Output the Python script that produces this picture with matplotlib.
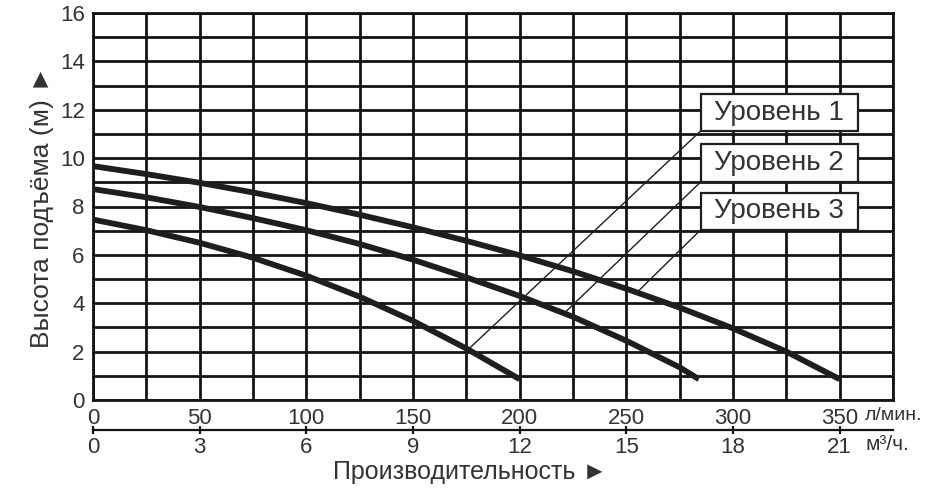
import numpy as np
import matplotlib
matplotlib.use("Agg")
import matplotlib.pyplot as plt
from matplotlib.patches import Rectangle

plt.rcParams['font.family'] = ['Liberation Sans', 'DejaVu Sans']

# ---- data (flow in l/min, head in m) ----
x_lvl3 = [0, 25, 50, 75, 100, 125, 150, 175, 200, 225, 250, 275, 300, 325, 350]
y_lvl3 = [9.67, 9.34, 8.98, 8.58, 8.14, 7.66, 7.14, 6.58, 5.98, 5.32, 4.6, 3.82, 2.96, 2.0, 0.86]
x_lvl2 = [0, 25, 50, 75, 100, 125, 150, 175, 200, 225, 250, 275, 284]
y_lvl2 = [8.72, 8.38, 7.98, 7.52, 7.02, 6.45, 5.8, 5.07, 4.3, 3.44, 2.45, 1.35, 0.86]
x_lvl1 = [0, 25, 50, 75, 100, 125, 150, 175, 200]
y_lvl1 = [7.46, 7.02, 6.5, 5.88, 5.14, 4.27, 3.27, 2.13, 0.86]

labels = ["Уровень 1", "Уровень 2", "Уровень 3"]
# leader line endpoints on curves (x, y)
leader_targets = [(176, 2.1), (221, 3.6), (255, 4.45)]

xticks_lmin = [0, 50, 100, 150, 200, 250, 300, 350]
xticks_m3h = [0, 3, 6, 9, 12, 15, 18, 21]
yticks = [0, 2, 4, 6, 8, 10, 12, 14, 16]

GRID = '#141414'
TXT = '#333333'

fig = plt.figure(figsize=(9.29, 4.95), dpi=100)
ax = fig.add_axes([93/929, 95/495, 800/929, 387/495])
ax.set_xlim(0, 375)
ax.set_ylim(0, 16)

ax.set_xticks(xticks_lmin)
ax.set_xticks(np.arange(0, 376, 25), minor=True)
ax.set_yticks(yticks)
ax.set_yticks(np.arange(0, 17, 1), minor=True)
ax.grid(True, which='both', color=GRID, linewidth=2.0)
ax.set_axisbelow(True)
for s in ax.spines.values():
    s.set_linewidth(2.0)
    s.set_color(GRID)
ax.tick_params(which='both', length=0)
ax.tick_params(axis='x', pad=6, labelsize=16, labelcolor=TXT)
ax.tick_params(axis='y', pad=6, labelsize=16, labelcolor=TXT)

for xs, ys in [(x_lvl3, y_lvl3), (x_lvl2, y_lvl2), (x_lvl1, y_lvl1)]:
    ax.plot(xs, ys, color='#1e1e1e', linewidth=4.2, solid_capstyle='butt',
            solid_joinstyle='round', zorder=4)

# label boxes
box_x0, box_x1 = 284.8, 358.5
box_rows = [(11.12, 12.65), (9.01, 10.58), (7.03, 8.56)]
for lab, (y0, y1), (tx, ty) in zip(labels, box_rows, leader_targets):
    ax.plot([box_x0, tx], [y0, ty], color='#1e1e1e', linewidth=1.0, zorder=3)
    ax.add_patch(Rectangle((box_x0, y0), box_x1 - box_x0, y1 - y0,
                           facecolor='white', edgecolor='#1e1e1e', linewidth=1.6, zorder=5))
    ax.text((box_x0 + box_x1) / 2, (y0 + y1) / 2, lab, ha='center', va='center',
            fontsize=20, color=TXT, zorder=6)

# secondary axis m3/h
sec = ax.secondary_xaxis(-30/387, functions=(lambda v: v * 0.06, lambda v: v / 0.06))
sec.set_xticks(xticks_m3h)
sec.spines['bottom'].set_linewidth(1.6)
sec.spines['bottom'].set_color(GRID)
sec.tick_params(axis='x', direction='inout', length=6, width=1.6, color=GRID,
                pad=2, labelsize=16, labelcolor=TXT)

ax.set_ylabel("Высота подъёма (м) ►", fontsize=19, color=TXT, labelpad=4)

fig.text(333/929, 1 - 472/495, "Производительность ►", fontsize=18, color=TXT,
         ha='left', va='center')
fig.text(865/929, 1 - 416/495, "л/мин.", fontsize=14, color=TXT, ha='left', va='center')
fig.text(866/929, 1 - 445/495, "м³/ч.", fontsize=15, color=TXT, ha='left', va='center')

fig.savefig("out.png", dpi=100, facecolor='white')
